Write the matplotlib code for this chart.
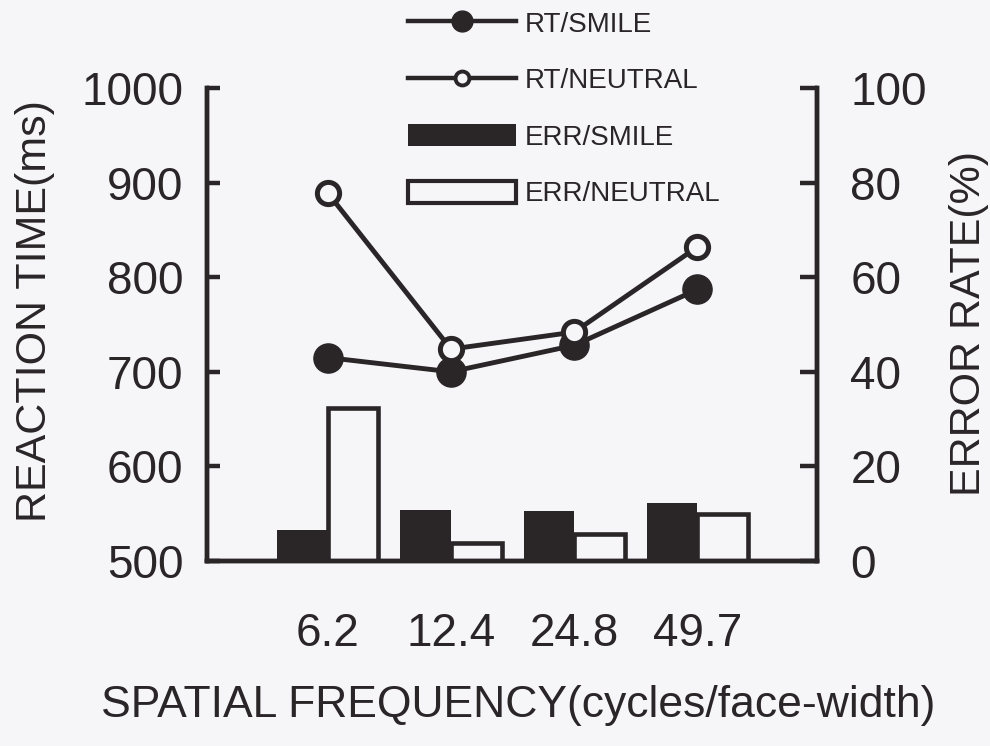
import matplotlib.pyplot as plt
from matplotlib.lines import Line2D
from matplotlib.patches import Patch
import numpy as np

# spatial frequency conditions (cycles/face-width)
freq_labels = ['6.2', '12.4', '24.8', '49.7']

# reaction times (ms)
rt_smile = [715, 700, 728, 787]
rt_neutral = [889, 724, 742, 832]

# error rates (%)
err_smile = [6.6, 10.8, 10.6, 12.3]
err_neutral = [32.3, 3.8, 5.7, 9.9]

INK = '#2a2527'
PAPER = '#f6f6f8'

plt.rcParams['font.family'] = ['Liberation Sans', 'DejaVu Sans']

fig = plt.figure(figsize=(9.9, 7.46), dpi=100, facecolor=PAPER)
ax = fig.add_axes([207 / 990, 1 - 561 / 746, 610 / 990, 473 / 746])
ax2 = ax.twinx()

x = np.arange(len(freq_labels))
bw = 0.41

# error bars on the right-hand scale
ax2.bar(x - bw, err_smile, width=bw, align='edge', color=INK,
        edgecolor=INK, linewidth=0)
ax2.bar(x, err_neutral, width=bw, align='edge', color=PAPER,
        edgecolor=INK, linewidth=3.3)

# reaction time lines on the left-hand scale
ax.plot(x, rt_smile, color=INK, lw=3.5, marker='o', ms=21,
        mfc=INK, mec=INK, mew=1, zorder=3)
ax.plot(x, rt_neutral, color=INK, lw=3.5, marker='o', ms=16,
        mfc=PAPER, mec=INK, mew=3.6, zorder=4)

ax.set_zorder(ax2.get_zorder() + 1)
ax.patch.set_visible(False)
ax2.patch.set_visible(False)

ax.set_xlim(-0.98, 3.97)
ax.set_ylim(500, 1000)
ax2.set_ylim(0, 100)
ax.set_yticks([500, 600, 700, 800, 900, 1000])
ax2.set_yticks([0, 20, 40, 60, 80, 100])
ax.set_xticks(x)
ax.set_xticklabels(freq_labels)

for a in (ax, ax2):
    a.spines['top'].set_visible(False)
    for s in a.spines.values():
        s.set_linewidth(3.2)
        s.set_color(INK)

ax.tick_params(axis='y', direction='in', length=9, width=3.2, color=INK,
               labelsize=33, labelcolor=INK, pad=17)
ax2.tick_params(axis='y', direction='in', length=12, width=3.2, color=INK,
                labelsize=33, labelcolor=INK, pad=24)
ax.tick_params(axis='x', length=0, labelsize=33, labelcolor=INK, pad=37)

ax.set_ylabel('REACTION TIME(ms)', fontsize=31, color=INK)
ax.yaxis.set_label_coords(-0.249, 0.528)
ax2.set_ylabel('ERROR RATE(%)', fontsize=31, color=INK, rotation=90)
ax2.yaxis.set_label_coords(1.216, 0.503)
ax.set_xlabel('SPATIAL FREQUENCY(cycles/face-width)', fontsize=32, color=INK)
ax.xaxis.set_label_coords(0.51, -0.262)

handles = [
    Line2D([], [], color=INK, lw=3.2, marker='o', ms=15, mfc=INK, mec=INK),
    Line2D([], [], color=INK, lw=3.2, marker='o', ms=10, mfc=PAPER,
           mec=INK, mew=2.8),
    Patch(facecolor=INK, edgecolor=INK, linewidth=0),
    Patch(facecolor=PAPER, edgecolor=INK, linewidth=3),
]
labels = ['RT/SMILE', 'RT/NEUTRAL', 'ERR/SMILE', 'ERR/NEUTRAL']
fig.legend(handles, labels, loc='upper left',
           bbox_to_anchor=(408 / 990, 1 - 11 / 746), frameon=False,
           fontsize=20, handlelength=3.9, handleheight=0.86,
           handletextpad=0.3, labelspacing=1.07, borderpad=0,
           borderaxespad=0, labelcolor=INK)

fig.savefig('out.png', dpi=100, facecolor=PAPER)
